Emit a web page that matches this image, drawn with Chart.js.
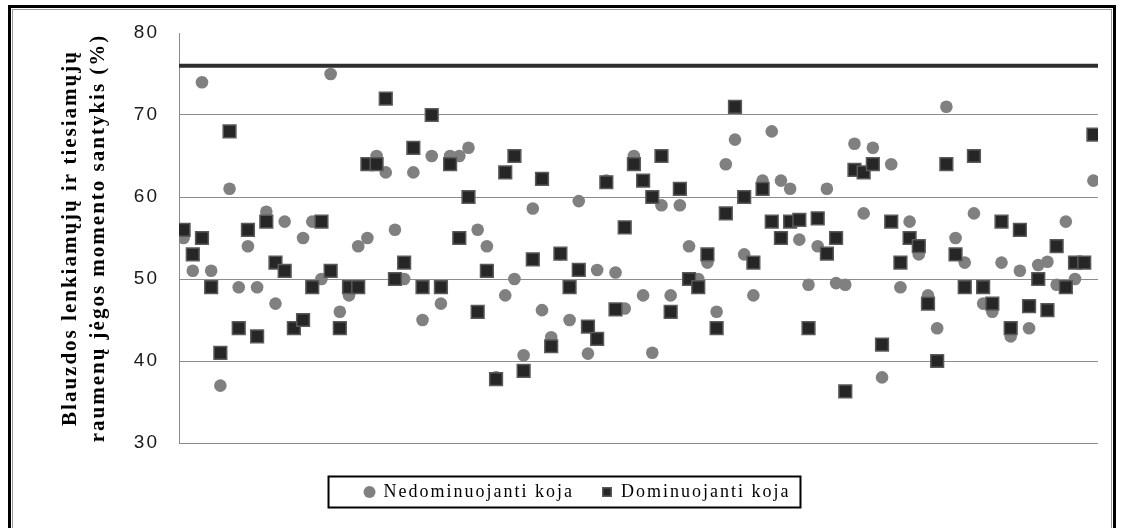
<!DOCTYPE html>
<html>
<head>
<meta charset="utf-8">
<script src="https://cdn.jsdelivr.net/npm/chart.js@4.4.0/dist/chart.umd.min.js"></script>
<style>
  html, body { margin: 0; padding: 0; background: #fff; }
  body { width: 1122px; height: 528px; overflow: hidden; position: relative; }
  #frame {
    position: absolute; left: 8px; top: 5px; width: 1102px; height: 560px;
    border: 3px solid #000;
    box-shadow: inset 0 0 0 1px #fff, inset 0 0 0 2px #999;
  }
  #wrap { position: absolute; left: 0; top: 0; width: 1122px; height: 528px; }
</style>
</head>
<body>
<div id="frame"></div>
<div id="wrap"><canvas id="myChart" width="1122" height="528"></canvas></div>
<script>
// Duomenys (nuskaityti nuo paveikslo)
const nedominuojanti = [
  55, 51, 74, 51, 37, 61, 49, 54, 49, 58.2,
  47, 57, 44, 55, 57, 50, 75, 46, 48, 54,
  55, 65, 63, 56, 50, 63, 45, 65, 47, 65,
  65, 66, 56, 54, 38, 48, 50, 40.7, 58.6, 46.2,
  42.9, 53, 45, 59.5, 40.9, 51.1, 62, 50.8, 46.4, 65,
  48, 41, 59, 48, 59, 54, 50, 52, 46, 64,
  67, 53, 48, 62, 68, 62, 61, 54.8, 49.3, 54,
  61, 49.5, 49.3, 66.5, 58, 66, 38, 64, 49, 57,
  53, 48, 44, 71, 55, 52, 58, 47, 46, 52,
  43, 51, 44, 51.7, 52.1, 49.3, 57, 50, 52, 62
];
const dominuojanti = [
  56, 53, 55, 49, 41, 68, 44, 56, 43, 57,
  52, 51, 44, 45, 49, 57, 51, 44, 49, 49,
  64, 64, 72, 50, 52, 66, 49, 70, 49, 64,
  55, 60, 46, 51, 37.8, 63, 65, 38.8, 52.4, 62.2,
  41.8, 53.1, 49, 51.1, 44.2, 42.7, 61.8, 46.3, 56.3, 64,
  62, 60, 65, 46, 61, 50, 49, 53, 44, 58,
  71, 60, 52, 61, 57, 55, 57, 57.2, 44, 57.4,
  53.1, 55, 36.3, 63.3, 63, 64, 42, 57, 52, 55,
  54, 47, 40, 64, 53, 49, 65, 49, 47, 57,
  44, 56, 46.7, 50, 46.2, 54, 49, 52, 52, 67.6
];
const tiriamieji = nedominuojanti.map((v, i) => i + 1);
const yTicks = [30, 40, 50, 60, 70, 80];
const ribosReiksme = 76;
const serijuPavadinimai = ['Nedominuojanti koja', 'Dominuojanti koja'];
const yPavadinimas = ['Blauzdos lenkiamųjų ir tiesiamųjų', 'raumenų jėgos momento santykis (%)'];

const xMin = 0.5;
const xMax = tiriamieji.length + 0.5;
const TARPAS = '2px';

// raidžių tarpai visam tekstui
const letterSpacingPlugin = {
  id: 'letterSpacing',
  beforeLayout(chart) { chart.ctx.letterSpacing = TARPAS; },
  beforeDraw(chart) { chart.ctx.letterSpacing = TARPAS; }
};

// rėmelis aplink legendą
const legendBox = {
  id: 'legendBox',
  afterDraw(chart) {
    const boxes = chart.legend && chart.legend.legendHitBoxes;
    if (!boxes || !boxes.length) return;
    const first = boxes[0];
    const last = boxes[boxes.length - 1];
    const cy = first.top + first.height / 2;
    const left = first.left - 36;
    const right = last.left + last.width + 10;
    const ctx = chart.ctx;
    ctx.save();
    ctx.strokeStyle = '#000';
    ctx.lineWidth = 2;
    ctx.strokeRect(left, cy - 15.5, right - left, 31);
    ctx.restore();
  }
};

const ctx = document.getElementById('myChart').getContext('2d');
const myChart = new Chart(ctx, {
  type: 'scatter',
  data: {
    datasets: [
      {
        label: serijuPavadinimai[0],
        data: nedominuojanti.map((v, i) => ({ x: tiriamieji[i], y: v })),
        pointStyle: 'circle',
        pointRadius: 6.3,
        pointHoverRadius: 6.3,
        backgroundColor: '#808080',
        borderColor: '#808080',
        borderWidth: 0,
        order: 2
      },
      {
        label: serijuPavadinimai[1],
        data: dominuojanti.map((v, i) => ({ x: tiriamieji[i], y: v })),
        pointStyle: 'rect',
        pointRadius: 9,
        pointHoverRadius: 9,
        backgroundColor: '#262626',
        borderColor: '#5a5a5a',
        borderWidth: 1.5,
        order: 1
      },
      {
        type: 'line',
        label: 'riba',
        data: [{ x: xMin, y: ribosReiksme }, { x: xMax, y: ribosReiksme }],
        borderColor: '#2e2e2e',
        borderWidth: 4,
        pointRadius: 0,
        order: 3
      }
    ]
  },
  options: {
    responsive: false,
    animation: false,
    layout: { padding: { left: 57, right: 24, top: 33, bottom: 17 } },
    scales: {
      x: {
        type: 'linear',
        min: xMin,
        max: xMax,
        grid: { display: false },
        border: { display: false },
        ticks: { display: false },
        afterFit: s => { s.height = 12; }
      },
      y: {
        min: 30,
        max: 80,
        afterBuildTicks: s => { s.ticks = yTicks.map(v => ({ value: v })); },
        afterFit: s => { s.width = 122; },
        border: { display: true, color: '#8c8c8c', width: 1 },
        grid: {
          drawTicks: false,
          lineWidth: 1,
          color: c => (c.tick && c.tick.value === 80) ? 'rgba(0,0,0,0)' : '#8c8c8c'
        },
        ticks: {
          padding: 20,
          color: '#1a1a1a',
          font: { family: 'Liberation Sans', size: 19 }
        },
        title: {
          display: true,
          text: yPavadinimas,
          color: '#000',
          padding: 0,
          font: { family: 'Liberation Serif', size: 21, weight: 'bold', lineHeight: 1.33 }
        }
      }
    },
    plugins: {
      tooltip: { enabled: false },
      legend: {
        position: 'bottom',
        labels: {
          usePointStyle: true,
          boxWidth: 10,
          boxHeight: 8.5,
          padding: 28,
          color: '#000',
          font: { family: 'Liberation Serif', size: 18 },
          filter: item => item.datasetIndex < 2,
          sort: (a, b) => a.datasetIndex - b.datasetIndex
        }
      }
    }
  },
  plugins: [letterSpacingPlugin, legendBox]
});
</script>
</body>
</html>
